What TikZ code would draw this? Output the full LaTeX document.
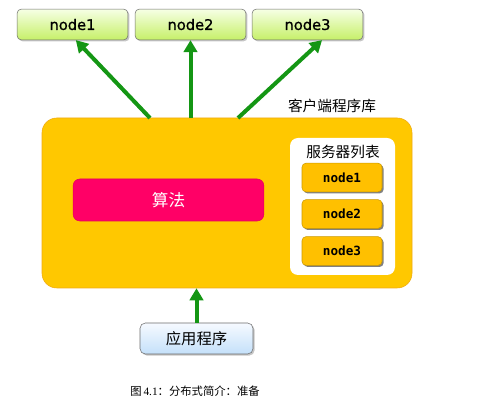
\documentclass[tikz,border=0pt]{standalone}
\usepackage{fontspec}
\setmainfont{DejaVu Sans}
\newfontfamily\cjk{Noto Sans CJK SC}
\newfontfamily\capfont{Liberation Serif}
\newfontfamily\srvfont{DejaVu Sans Mono}
\newfontfamily\topfont[FakeBold=0.9]{DejaVu Sans}
\usetikzlibrary{arrows.meta,shadows}

\definecolor{arrowgreen}{RGB}{20,150,20}
\definecolor{libyellow}{RGB}{255,200,0}
\definecolor{libborder}{RGB}{240,170,20}
\definecolor{algopink}{RGB}{255,0,102}
\definecolor{srvyellow}{RGB}{255,192,0}
\definecolor{limetop}{RGB}{246,255,228}
\definecolor{limebot}{RGB}{198,240,105}
\definecolor{bluetop}{RGB}{246,250,255}
\definecolor{bluebot}{RGB}{196,224,250}

\tikzset{
	topnode/.style={draw=gray!85!black, rounded corners=3pt, top color=limetop, bottom color=limebot,
		minimum width=83pt, minimum height=23pt, inner sep=0pt, font=\topfont\fontsize{11}{13}\selectfont,
		drop shadow={shadow xshift=1.2pt, shadow yshift=-1.2pt, opacity=0.45}},
	srvnode/.style={draw=srvyellow!80!black, rounded corners=3pt, fill=srvyellow,
		minimum width=60pt, minimum height=21.5pt, inner sep=0pt, font=\srvfont\bfseries\fontsize{9.5}{11}\selectfont,
		drop shadow={shadow xshift=1.2pt, shadow yshift=-1.2pt, fill=black!70, opacity=0.7}},
	uparrow/.style={draw=arrowgreen, line width=3pt, -{Triangle[width=10pt,length=9pt,fill=arrowgreen]}},
	cjklabel/.style={inner sep=0pt, font=\cjk\fontsize{11}{13}\selectfont}
}

\begin{document}
\begin{tikzpicture}[x=0.75pt, y=-0.75pt]
	\useasboundingbox (0,0) rectangle (479,402);

	% client library
	\node[draw=libborder, fill=libyellow, rounded corners=11pt, minimum width=277.5pt, minimum height=127.5pt] (lib) at (227,203) {};
	\node[cjklabel] (liblabel) at (332,106) {客户端程序库};

	% algorithm
	\node[fill=algopink, draw=algopink!90!black, rounded corners=5pt, minimum width=143pt, minimum height=31.5pt,
		text=white, font=\cjk\fontsize{12.5}{14}\selectfont] (algo) at (168.5,200) {算法};

	% server list
	\node[fill=white, rounded corners=6pt, minimum width=78.75pt, minimum height=102.75pt] (list) at (342.5,206.5) {};
	\node[cjklabel] (listlabel) at (343,152) {服务器列表};
	\foreach \i/\y in {1/177.5, 2/214, 3/251} {
		\node[srvnode] (s\i) at (342,\y) {node\i};
	}

	% cluster nodes
	\foreach \i/\x in {1/72.5, 2/190.5, 3/307.5} {
		\node[topnode] (n\i) at (\x,24.5) {node\i};
	}

	% application
	\node[draw=gray!85!black, rounded corners=4pt, top color=bluetop, bottom color=bluebot,
		minimum width=84.75pt, minimum height=23.25pt, inner sep=0pt, font=\cjk\fontsize{11.5}{13}\selectfont,
		drop shadow={shadow xshift=1.2pt, shadow yshift=-1.2pt, opacity=0.45}] (app) at (196.5,338.5) {应用程序};

	% arrows
	\coordinate (t1) at (150,118);
	\coordinate (t2) at (190.5,118);
	\coordinate (t3) at (238,118);
	\draw[uparrow] (t1) -- (n1.-78);
	\draw[uparrow] (t2) -- (n2.south);
	\draw[uparrow] (t3) -- (n3.-47);
	\draw[uparrow] (app.north) -- (app.north |- lib.south);

	% caption
	\node[inner sep=0pt, font=\fontsize{8.5}{10}\selectfont] (caption) at (195,391) {\cjk 图\,\capfont 4.1\cjk ：分布式简介：准备};
\end{tikzpicture}
\end{document}
